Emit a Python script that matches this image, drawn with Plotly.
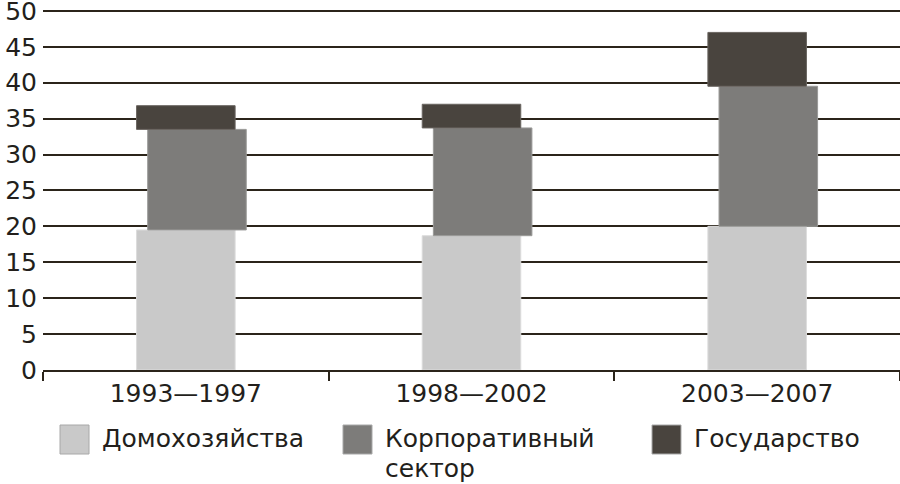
import plotly.graph_objects as go

categories = ["1993—1997", "1998—2002", "2003—2007"]
households = [19.5, 18.7, 20.0]
corporate = [14.0, 15.0, 19.5]
government = [3.3, 3.3, 7.5]
series_names = ["Домохозяйства", "Корпоративный<br>сектор", "Государство"]
colors = ["#c9c9c9", "#7d7c7a", "#49443e"]
y_ticks = [0, 5, 10, 15, 20, 25, 30, 35, 40, 45, 50]

base_corp = households
base_gov = [h + c for h, c in zip(households, corporate)]

FONT = "DejaVu Sans"
TEXT = "#231f1c"
GRID = "#2b241a"

fig = go.Figure()
W = 0.345
fig.add_trace(go.Bar(x=categories, y=households, name=series_names[0],
                     marker=dict(color=colors[0], line=dict(color="#dcdcdc", width=1)),
                     width=W, offset=-W / 2))
fig.add_trace(go.Bar(x=categories, y=corporate, base=base_corp, name=series_names[1],
                     marker=dict(color=colors[1], line=dict(color="#9a9a98", width=1)),
                     width=W, offset=-W / 2 + 0.039))
fig.add_trace(go.Bar(x=categories, y=government, base=base_gov, name=series_names[2],
                     marker=dict(color=colors[2], line=dict(color="#6a6560", width=1)),
                     width=W, offset=-W / 2))

# legend drawn as swatches + labels
PX0, PW, PY0, PH = 43, 857, 370, 362
def px(x):
    return (x - PX0) / PW
def py(y):
    return (PY0 - y) / PH

sw_x = [60, 343, 652]
for i, (nm, col) in enumerate(zip(series_names, colors)):
    fig.add_shape(type="rect", xref="paper", yref="paper",
                  x0=px(sw_x[i]), x1=px(sw_x[i] + 29), y0=py(454), y1=py(425),
                  fillcolor=col, line=dict(color="#a8a8a8", width=1), layer="above")
    for j, line in enumerate(nm.split("<br>")):
        fig.add_annotation(xref="paper", yref="paper", x=px(sw_x[i] + 40), y=py(439 + 29.5 * j),
                           xanchor="left", yanchor="middle", align="left", showarrow=False,
                           text=line, font=dict(family=FONT, size=25, color=TEXT))

fig.update_layout(
    width=900, height=484,
    margin=dict(l=43, r=0, t=8, b=114),
    paper_bgcolor="white", plot_bgcolor="white",
    barmode="overlay", showlegend=False,
    font=dict(family=FONT, color=TEXT),
)
fig.update_yaxes(range=[0, 50.4], tickvals=y_ticks, showgrid=True, gridcolor=GRID, gridwidth=2.2,
                 zeroline=False, showline=False, ticks="", ticklabelstandoff=5, automargin=False,
                 ticklabeloverflow="allow",
                 tickfont=dict(family=FONT, size=25, color=TEXT), fixedrange=True)
fig.update_xaxes(showgrid=False, showline=True, linecolor=GRID, linewidth=2.2, automargin=False,
                 ticks="outside", tickson="boundaries", ticklen=9, tickwidth=2, tickcolor=GRID,
                 tickfont=dict(family=FONT, size=25, color=TEXT), range=[-0.5, 2.5])

fig.write_html("out.html", config={"displayModeBar": False},
               post_script="document.body.style.margin='0';document.body.style.overflow='hidden';")
